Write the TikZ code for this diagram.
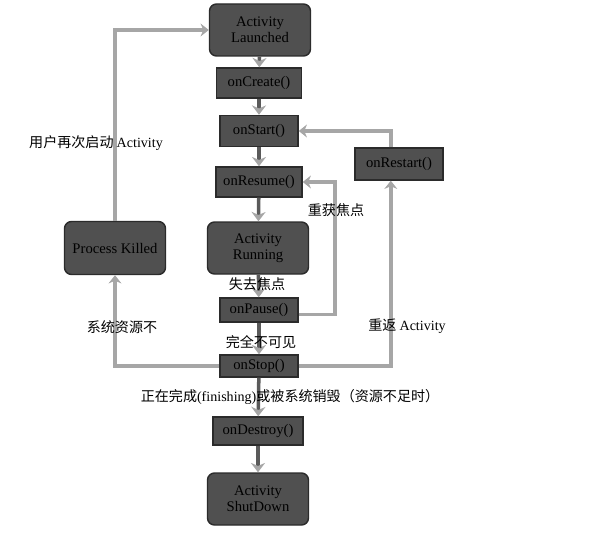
\documentclass[tikz,border=0pt]{standalone}
\usepackage{fontspec}
\setmainfont{Liberation Serif}
\newfontfamily\cjk{Noto Sans CJK SC}
\usetikzlibrary{arrows.meta,positioning}
\definecolor{BoxFill}{HTML}{505050}
\definecolor{BoxEdge}{HTML}{2B2B2B}
\definecolor{FlowDark}{HTML}{5A5A5A}
\definecolor{FlowLight}{HTML}{A6A6A6}
\tikzset{
  ST/.style={rectangle,rounded corners=6pt,draw=BoxEdge,line width=1.2pt,
             fill=BoxFill,minimum width=3.03cm,minimum height=1.56cm,
             align=center,font=\fontsize{12.5}{13.5}\selectfont,inner sep=1pt},
  CB/.style={rectangle,draw=BoxEdge,line width=1.2pt,fill=BoxFill,
             align=center,font=\fontsize{12.5}{13.5}\selectfont,inner sep=1pt},
  fwd/.style={-{Stealth[length=8pt,width=12pt,color=FlowLight]},
              draw=FlowDark,line width=3pt},
  back/.style={-{Stealth[length=7pt,width=11pt]},draw=FlowLight,line width=3pt},
  LB/.style={font=\cjk\fontsize{12}{13}\selectfont,inner sep=0pt}
}
\begin{document}
\begin{tikzpicture}[x=0.03cm,y=-0.03cm]
  \useasboundingbox (0,0) rectangle (598,536);

  % main column
  \node[ST] (launched) at (260,30) {Activity\\Launched};
  \node[CB,minimum width=2.55cm,minimum height=0.9cm] (create) at (259,83) {onCreate()};
  \node[CB,minimum width=2.34cm,minimum height=0.93cm] (start) at (259,131) {onStart()};
  \node[CB,minimum width=2.58cm,minimum height=0.9cm] (resume) at (259,182) {onResume()};
  \node[ST] (running) at (258,248) {Activity\\Running};
  \node[CB,minimum width=2.34cm,minimum height=0.72cm] (pause) at (259,310) {onPause()};
  \node[CB,minimum width=2.34cm,minimum height=0.66cm] (stop) at (259,366) {onStop()};
  \node[CB,minimum width=2.7cm,minimum height=0.84cm] (destroy) at (258,431) {onDestroy()};
  \node[ST] (shutdown) at (258,499) {Activity\\ShutDown};

  % side boxes
  \node[CB,minimum width=2.64cm,minimum height=0.96cm] (restart) at (399,164) {onRestart()};
  \node[ST,minimum height=1.59cm] (killed) at (115,248) {Process Killed};
  \coordinate (focus) at (335,182);

  \draw[fwd] (launched) -- (create);
  \draw[fwd] (create) -- (start);
  \draw[fwd] (start) -- (resume);
  \draw[fwd] (resume) -- (running);
  \draw[fwd] (running) -- (pause);
  \draw[fwd] (pause) -- (stop);
  \draw[fwd] (stop) -- (destroy);
  \draw[fwd] (destroy) -- (shutdown);

  \draw[back] (killed.north) |- (launched.west);
  \draw[back] (stop.west) -| (killed.south);
  \draw[back] (stop.east) -| ([xshift=-7]restart.south);
  \draw[back] ([xshift=-7]restart.north) |- (start.east);
  \draw[back] ([yshift=-4]pause.east) -| (focus) -- (resume.east);

  % labels
  \node[LB] (relaunch) at (96,143) {用户再次启动 {\rmfamily Activity}};
  \node[LB] (regain) at (336,210) {重获焦点};
  \node[LB] (lose) at (257,284) {失去焦点};
  \node[LB] (lowres) at (122,327) {系统资源不};
  \node[LB] (back) at (407,326) {重返 {\rmfamily Activity}};
  \node[LB] (hidden) at (261,342) {完全不可见};
  \node[LB] (finish) at (290,397) {正在完成{\rmfamily(finishing)}或被系统销毁（资源不足时）};
\end{tikzpicture}
\end{document}
